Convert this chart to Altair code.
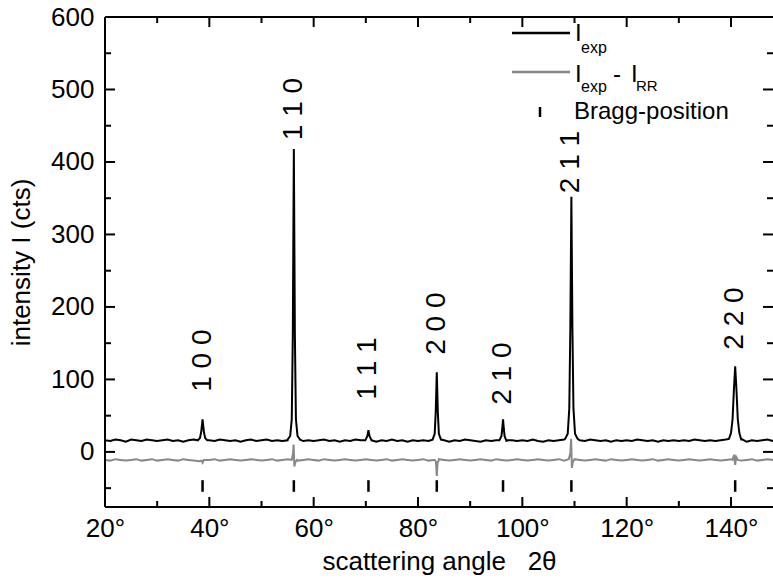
import altair as alt
import pandas as pd

# ---------------- data ----------------
base_angle = list(range(20, 150))  # 20..149 deg, 1 deg steps
exp_base = [
    16, 15, 17, 16, 14, 17, 16, 15, 17, 16,
    15, 16, 17, 15, 16, 14, 16, 17, 16, 15,
    16, 15, 17, 16, 15, 16, 14, 16, 17, 15,
    16, 17, 15, 16, 15, 16, 17, 16, 15, 16,
    15, 16, 17, 15, 16, 14, 16, 15, 17, 16,
    15, 16, 14, 16, 15, 17, 15, 16, 14, 16,
    15, 16, 15, 16, 15, 16, 14, 16, 15, 17,
    16, 15, 14, 16, 15, 16, 15, 14, 16, 15,
    16, 15, 17, 15, 14, 16, 15, 16, 17, 16,
    15, 16, 15, 17, 16, 15, 16, 14, 16, 15,
    16, 15, 17, 16, 15, 16, 14, 16, 15, 16,
    15, 16, 15, 17, 16, 15, 16, 15, 16, 17,
    16, 15, 16, 14, 16, 15, 16, 17, 15, 16,
]
diff_base = [
    -11, -12, -10, -11, -12, -11, -10, -12, -11, -10,
    -12, -11, -10, -11, -12, -10, -11, -12, -13, -11,
    -11, -10, -12, -11, -10, -11, -12, -11, -10, -11,
    -12, -11, -10, -12, -11, -10, -11, -12, -11, -10,
    -11, -12, -10, -11, -12, -11, -10, -11, -12, -11,
    -10, -11, -12, -11, -10, -12, -11, -10, -11, -12,
    -11, -10, -12, -11, -10, -11, -12, -11, -10, -11,
    -12, -11, -10, -11, -12, -10, -11, -12, -11, -10,
    -11, -12, -11, -10, -11, -12, -11, -10, -12, -11,
    -10, -11, -12, -11, -10, -11, -12, -10, -11, -12,
    -11, -10, -11, -12, -11, -10, -12, -11, -10, -11,
    -12, -11, -10, -11, -12, -11, -10, -11, -12, -11,
    -10, -11, -12, -11, -10, -12, -11, -10, -11, -12,
]

# measured peak profiles (angle, counts)
exp_peak_angles = [
    [37.8, 38.2, 38.45, 38.7, 38.95, 39.2, 39.6],
    [55.0, 55.5, 55.8, 56.0, 56.2, 56.4, 56.6, 56.9, 57.4],
    [69.9, 70.3, 70.5, 70.7, 71.1],
    [82.8, 83.2, 83.4, 83.6, 83.8, 84.0, 84.4],
    [95.6, 96.0, 96.15, 96.3, 96.45, 96.6, 97.0],
    [108.2, 108.7, 109.0, 109.2, 109.4, 109.6, 109.8, 110.1, 110.6],
    [139.6, 140.0, 140.3, 140.55, 140.8, 141.05, 141.3, 141.6, 142.0],
]
exp_peak_counts = [
    [16, 19, 28, 45, 28, 19, 16],
    [17, 22, 45, 160, 418, 160, 45, 22, 17],
    [16, 22, 30, 22, 16],
    [17, 25, 55, 110, 55, 25, 17],
    [16, 22, 32, 45, 32, 22, 16],
    [18, 25, 60, 170, 352, 170, 60, 25, 18],
    [18, 26, 45, 85, 118, 85, 45, 26, 18],
]
diff_spike_angles = [
    [38.5, 38.7, 38.9],
    [55.8, 56.05, 56.15, 56.3, 56.5, 56.8],
    [83.2, 83.45, 83.6, 83.75, 84.0],
    [108.9, 109.2, 109.35, 109.5, 109.7, 110.0],
    [140.3, 140.6, 140.8, 141.0, 141.3],
]
diff_spike_counts = [
    [-12, -15, -12],
    [-11, -2, 10, -20, -14, -11],
    [-11, -14, -33, -15, -11],
    [-10, -2, 18, -22, -13, -11],
    [-11, -4, -18, -7, -11],
]

hkl = ["1 0 0", "1 1 0", "1 1 1", "2 0 0", "2 1 0", "2 1 1", "2 2 0"]
bragg_pos = [38.7, 56.2, 70.5, 83.6, 96.3, 109.4, 140.8]
label_y = [83, 430, 72, 134, 65, 357, 141]
bragg_top = -39
bragg_bottom = -55

x_major = [20, 40, 60, 80, 100, 120, 140]
x_minor = [30, 50, 70, 90, 110, 130]
y_major = [0, 100, 200, 300, 400, 500, 600]
y_minor = [-50, 50, 150, 250, 350, 450, 550]


def merge(base_a, base_v, peak_a, peak_v):
    windows = [(min(a), max(a)) for a in peak_a]
    rows = [(a, v) for a, v in zip(base_a, base_v)
            if not any(lo < a < hi for lo, hi in windows)]
    for pa, pv in zip(peak_a, peak_v):
        rows += list(zip(pa, pv))
    rows.sort()
    return pd.DataFrame(rows, columns=["angle", "intensity"])


df_exp = merge(base_angle, exp_base, exp_peak_angles, exp_peak_counts)
df_diff = merge(base_angle, diff_base, diff_spike_angles, diff_spike_counts)
df_bragg = pd.DataFrame({"angle": bragg_pos, "intensity": [bragg_bottom] * len(bragg_pos),
                         "hi": [bragg_top] * len(bragg_pos)})
df_lab = pd.DataFrame({"angle": bragg_pos, "intensity": label_y, "hkl": hkl})
dummy = pd.DataFrame({"d": [0]})

# ---------------- layout ----------------
W, H = 668, 490
FONT = "Liberation Sans"
XT = "scattering angle\u00a0\u00a0\u00a02θ"
YT = "intensity I (cts)"
xs = alt.Scale(domain=[20, 148.05], nice=False, zero=False)
ys = alt.Scale(domain=[-76, 600], nice=False, zero=False)

AX_X = alt.Axis(values=x_major, labelExpr="datum.value + '°'", title=XT,
                ticks=False, domain=False, grid=False, labelFlush=False,
                labelFontSize=26, titleFontSize=26,
                labelPadding=8, titlePadding=7)
AX_Y = alt.Axis(values=y_major, title=YT,
                ticks=False, domain=False, grid=False, labelFlush=False,
                labelFontSize=26, titleFontSize=26,
                labelPadding=11, titlePadding=16)


def X(field="angle"):
    return alt.X(f"{field}:Q", scale=xs, axis=AX_X, title=XT)


def Y(field="intensity"):
    return alt.Y(f"{field}:Q", scale=ys, axis=AX_Y, title=YT)


exp_line = alt.Chart(df_exp).mark_line(color="black", strokeWidth=2).encode(x=X(), y=Y())
diff_line = alt.Chart(df_diff).mark_line(color="#888888", strokeWidth=2).encode(x=X(), y=Y())
bragg = alt.Chart(df_bragg).mark_rule(color="black", strokeWidth=2.5).encode(
    x=X(), y=Y(), y2="hi:Q")
labels = alt.Chart(df_lab).mark_text(angle=270, align="left", baseline="middle",
                                     font=FONT, fontSize=28, color="black").encode(
    x=X(), y=Y(), text="hkl:N")


def xticks(vals, y0, y1):
    return alt.Chart(pd.DataFrame({"angle": vals})).mark_rule(color="black", strokeWidth=2).encode(
        x=X(), y=alt.value(y0), y2=alt.value(y1))


def yticks(vals, x0, x1):
    return alt.Chart(pd.DataFrame({"intensity": vals})).mark_rule(color="black", strokeWidth=2).encode(
        y=Y(), x=alt.value(x0), x2=alt.value(x1))


def frame(color="black", sw=2, **enc):
    return alt.Chart(dummy).mark_rule(color=color, strokeWidth=sw).encode(**enc)


def txt(t, x, y, size):
    return alt.Chart(dummy).mark_text(text=t, x=x, y=y, font=FONT, fontSize=size,
                                      align="left", baseline="middle", color="black").encode(
        opacity=alt.value(1))


ticks = [
    xticks(x_major, H, H - 10), xticks(x_minor, H, H - 6),
    xticks(x_major, 0, 10), xticks(x_minor, 0, 6),
    yticks(y_major, 0, 10), yticks(y_minor, 0, 6),
    yticks(y_major, W, W - 10), yticks(y_minor, W, W - 6),
    frame(x=alt.value(0), y=alt.value(0), y2=alt.value(H)),
    frame(x=alt.value(0), x2=alt.value(W), y=alt.value(H)),
    frame(x=alt.value(0), x2=alt.value(W), y=alt.value(0)),
]

legend = [
    frame("black", 2.5, x=alt.value(407), x2=alt.value(465), y=alt.value(16)),
    frame("#888888", 2.5, x=alt.value(407), x2=alt.value(465), y=alt.value(55)),
    frame("black", 2.5, x=alt.value(435), y=alt.value(90), y2=alt.value(100)),
    txt("I", 470, 17, 24), txt("exp", 476, 31, 16),
    txt("I", 470, 58, 24), txt("exp", 476, 70, 16),
    txt("-", 508, 58, 24), txt("I", 526, 58, 24), txt("RR", 531, 69, 15),
    txt("Bragg-position", 469, 95, 24),
]

chart = alt.layer(exp_line, diff_line, bragg, labels, *ticks, *legend).properties(
    width=W, height=H, autosize="none",
    padding={"left": 105, "top": 17, "right": 0, "bottom": 70},
).configure_view(strokeWidth=0).configure_axis(
    labelFont=FONT, titleFont=FONT, labelColor="black", titleColor="black",
    titleFontWeight="normal",
)

chart.save("out.html", embed_options={"renderer": "svg", "actions": False})
